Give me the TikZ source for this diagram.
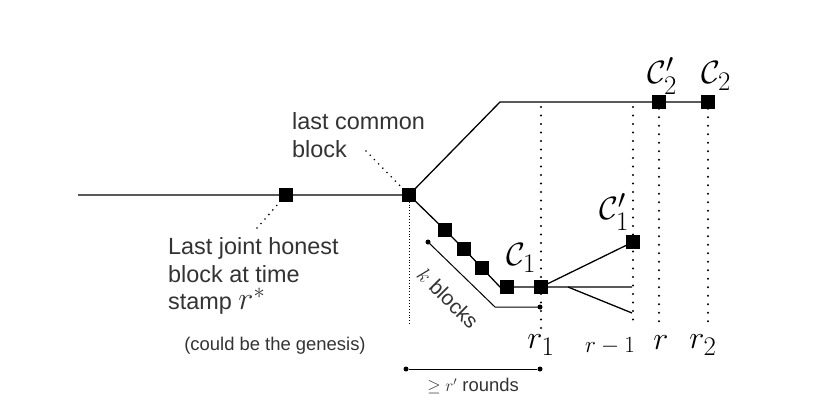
\documentclass[tikz,border=0pt]{standalone}
\usepackage{amsmath}
\usepackage{amssymb}
\usepackage{fontspec}
\setsansfont{Liberation Sans}
\usetikzlibrary{positioning}

\begin{document}
\begin{tikzpicture}[
  x=1bp, y=-1bp,
  blk/.style={draw, fill=black, minimum size=13bp, inner sep=0pt},
  chain/.style={line width=1.3bp},
  vdots/.style={line width=2.2bp, dash pattern=on 0bp off 8.5bp, line cap=round},
  lead/.style={line width=1.8bp, dash pattern=on 0bp off 6bp, line cap=round},
  lbl/.style={font=\sffamily\fontsize{23.5}{28}\selectfont, text=black!80, align=left, inner sep=0pt},
  sml/.style={font=\sffamily\fontsize{18.5}{20}\selectfont, text=black!80, inner sep=0pt},
  mlbl/.style={font=\fontsize{24.88}{26}\selectfont, inner sep=0pt, scale=1.3, transform shape},
  pin/.style={circle, fill=black, inner sep=0pt, minimum size=5bp}
]
\useasboundingbox (0,0) rectangle (830,408);
% chain blocks
\coordinate (start) at (78,195);
\node[blk] (hon) at (286,195) {};
\node[blk] (lcb) at (409,195) {};
\coordinate (bend) at (500,102);
\node[blk] (c2p) at (659,102) {};
\node[blk] (c2) at (708,102) {};
\node[blk] (k1) at (445,230) {};
\node[blk] (k2) at (464,249) {};
\node[blk] (k3) at (482,268) {};
\coordinate (kend) at (500,287);
\node[blk] (c1) at (507,287) {};
\node[blk] (r1blk) at (541,287) {};
\node[blk] (c1p) at (633,242) {};
\coordinate (fork) at (568,287);
\coordinate (mid) at (632,287);
\coordinate (low) at (632,313);
\draw[chain] (start) -- (hon) -- (lcb) -- (bend) -- (c2p) -- (c2);
\draw[chain] (lcb) -- (k1) -- (k2) -- (k3) -- (kend) -- (c1) -- (r1blk) -- (mid);
\draw[chain] (r1blk) -- (c1p);
\draw[chain] (fork) -- (low);
% round markers
\coordinate (top1) at (541,107);
\coordinate (top2) at (633,107);
\coordinate (bot0) at (409,325);
\coordinate (bot1) at (541,330);
\coordinate (bot2) at (633,326);
\coordinate (bot3) at (659,326);
\coordinate (bot4) at (708,322);
\draw[dotted, line width=0.9bp] (lcb) -- (bot0);
\draw[vdots] (top1) -- (bot1);
\draw[vdots] (top2) -- (bot2);
\draw[vdots] (c2p) -- (bot3);
\draw[vdots] (c2) -- (bot4);
\node[mlbl] (r1lab) at (541,345) {$r_1$};
\node[mlbl, scale=0.72] (rm1lab) at (610,346) {$r-1$};
\node[mlbl] (rlab) at (661,343) {$r$};
\node[mlbl] (r2lab) at (703,345) {$r_2$};
\node[mlbl] (c2plab) at (662,76) {$\mathcal{C}_2'$};
\node[mlbl] (c2lab) at (716,76) {$\mathcal{C}_2$};
\node[mlbl] (c1plab) at (614,212) {$\mathcal{C}_1'$};
\node[mlbl] (c1lab) at (521,258) {$\mathcal{C}_1$};
% annotations
\node[lbl, anchor=west] (lcbtxt) at (292,135) {last common\\block};
\node[lbl, anchor=north west] (hontxt) at (168,237) {Last joint honest\\block at time\\stamp~\scalebox{1.3}{$r^{*}$}};
\node[sml] (gentxt) at (275,346) {(could be the genesis)};
\coordinate (hl) at (257,228);
\coordinate (ll) at (366,151);
\draw[lead] (hl) -- (hon);
\draw[lead] (ll) -- (lcb);
% k blocks
\node[pin] (ka) at (428,242) {};
\coordinate (kb) at (495,307);
\node[pin] (kc) at (540,307) {};
\draw[line width=1bp] (ka.center) -- (kb) -- (kc.center);
\node[lbl, font=\sffamily\fontsize{21}{24}\selectfont, rotate=-45] (ktxt) at (448,298) {$k$ blocks};
% rounds
\node[pin] (ra) at (406,369) {};
\node[pin] (rb) at (540,369) {};
\draw[line width=1bp] (ra) -- (rb);
\node[sml] (rtxt) at (473,386) {$\geq r'$ rounds};
\end{tikzpicture}
\end{document}
